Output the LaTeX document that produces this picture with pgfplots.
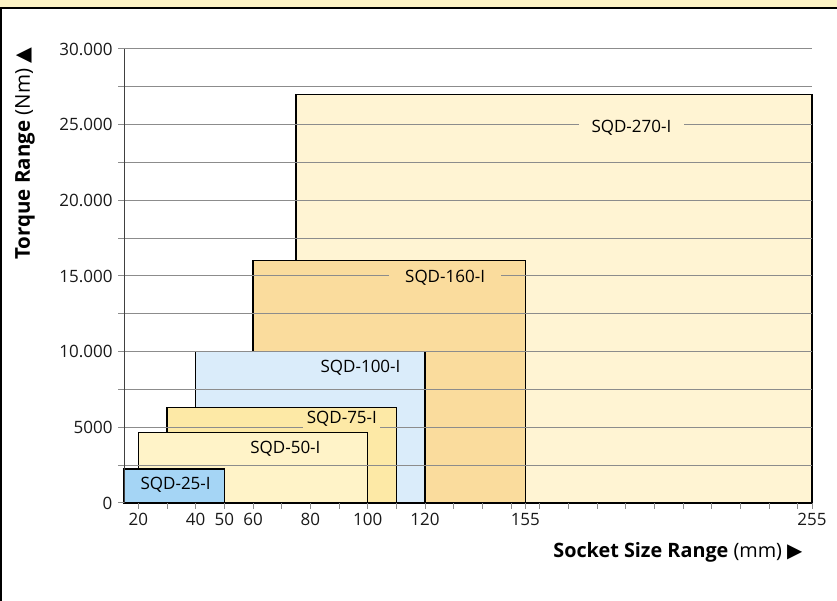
\documentclass[border=0pt]{standalone}
\usepackage{fontspec}
\setmainfont{Open Sans}
\newfontfamily\sym{DejaVu Sans}
\usepackage{pgfplots}
\pgfplotsset{compat=1.18}
\definecolor{c25}{HTML}{A5D5F5}
\definecolor{c50}{HTML}{FFF3C8}
\definecolor{c75}{HTML}{FDE9A6}
\definecolor{c100}{HTML}{DAECFA}
\definecolor{c160}{HTML}{FADC9D}
\definecolor{c270}{HTML}{FFF4D3}
\definecolor{band}{HTML}{FDF3C5}
\definecolor{gridc}{HTML}{8C8C8C}
\begin{document}
\begin{tikzpicture}[x=1pt,y=1pt]
\useasboundingbox (0,0) rectangle (837,601);
\fill[band] (0,593) rectangle (837,601);
\draw[line width=1.5pt] (0,593) -- (837,593);
\draw[line width=1.2pt] (1,0) -- (1,593);
\begin{axis}[
  at={(124pt,98pt)}, anchor=south west,
  scale only axis, width=688pt, height=454pt,
  xmin=15, xmax=255, ymin=0, ymax=30000,
  clip=false,
  axis on top,
  axis x line=bottom, axis y line=left,
  axis line style={-, line width=1pt},
  x axis line style={black},
  y axis line style={black!75},
  xtick={20,40,50,60,80,100,120,155,255},
  minor xtick={30,70,90,110,130,140,150,160,170,180,190,200,210,220,230,240,250},
  ytick={0,5000,10000,15000,20000,25000,30000},
  yticklabels={0,5000,10.000,15.000,20.000,25.000,30.000},
  minor ytick={2500,7500,12500,17500,22500,27500},
  scaled y ticks=false,
  ymajorgrids, yminorgrids,
  major grid style={gridc, line width=1pt},
  minor grid style={gridc, line width=1pt},
  tick align=outside,
  xtick style={gridc, line width=0.8pt},
  ytick style={gridc, line width=1pt},
  major tick length=6pt, minor tick length=6pt,
  /pgf/number format/assume math mode=true,
  ticklabel style={font=\fontsize{17}{20}\selectfont, text=black!90},
  xticklabel style={yshift=-1pt},
  yticklabel style={xshift=-2pt},
]
\addplot[draw=black, line width=1.2pt, fill=c270] coordinates {(75,0) (75,27000) (255,27000) (255,0)} -- cycle;
\addplot[draw=black, line width=1.2pt, fill=c160] coordinates {(60,0) (60,16000) (155,16000) (155,0)} -- cycle;
\addplot[draw=black, line width=1.2pt, fill=c100] coordinates {(40,0) (40,10000) (120,10000) (120,0)} -- cycle;
\addplot[draw=black, line width=1.2pt, fill=c75] coordinates {(30,0) (30,6300) (110,6300) (110,0)} -- cycle;
\addplot[draw=black, line width=1.2pt, fill=c50] coordinates {(20,0) (20,4650) (100,4650) (100,0)} -- cycle;
\addplot[draw=black, line width=1.2pt, fill=c25] coordinates {(15,0) (15,2250) (50,2250) (50,0)} -- cycle;
\coordinate (L270) at (axis cs:192,24800);
\coordinate (L160) at (axis cs:127,14900);
\coordinate (L100) at (axis cs:97.5,8950);
\coordinate (L75) at (axis cs:91,5550);
\coordinate (L50) at (axis cs:71.3,3550);
\coordinate (L25) at (axis cs:33,1200);
\end{axis}
\begin{scope}[every node/.style={font=\fontsize{17}{20}\selectfont, inner ysep=1pt}]
\node[fill=c270, inner xsep=13pt] at (L270) {SQD-270-I};
\node[fill=c160, inner xsep=16pt] at (L160) {SQD-160-I};
\node[fill=c100] at (L100) {SQD-100-I};
\node[fill=c75] at (L75) {SQD-75-I};
\node[fill=c50] at (L50) {SQD-50-I};
\node[fill=c25] at (L25) {SQD-25-I};
\end{scope}
\node[rotate=90, anchor=east, font=\fontsize{20.5}{23}\selectfont] at (25,557) {\textbf{Torque Range} (Nm) {\sym ▲}};
\node[anchor=east, font=\fontsize{19.8}{22}\selectfont] at (806,49) {\textbf{Socket Size Range} (mm) {\sym ▶}};
\end{tikzpicture}
\end{document}
